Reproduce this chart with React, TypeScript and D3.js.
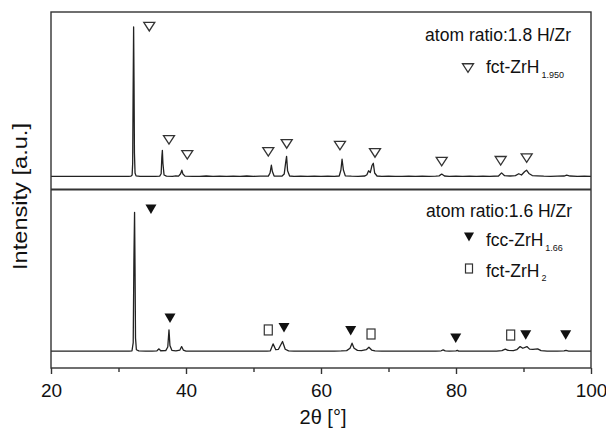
import React, { useRef, useEffect } from "react";
import * as d3 from "d3";

// XRD patterns: [2theta, intensity (a.u.)]
const topPattern: [number, number][] = [
  [20, 3], [22, 2], [24, 3], [26, 2], [28, 3], [30, 2], [31.5, 3], [31.85, 4], [32.02, 12], [32.1, 90],
  [32.16, 520], [32.24, 1000], [32.3, 640], [32.36, 160], [32.45, 25], [32.6, 6], [33.2, 3], [34.5, 2],
  [35.5, 3], [36.1, 4], [36.32, 20], [36.42, 130], [36.5, 176], [36.58, 90], [36.75, 12], [37.1, 4],
  [38, 3], [38.5, 6], [38.9, 4], [39.2, 20], [39.38, 44], [39.55, 18], [39.85, 4], [41, 2], [42, 3],
  [43, 5], [44, 3], [45, 4], [46, 2], [47, 4], [48, 3], [49, 5], [50, 3], [51, 4], [52.2, 4],
  [52.45, 25], [52.65, 77], [52.8, 35], [53.05, 5], [53.6, 4], [54.2, 4], [54.55, 18], [54.78, 100],
  [54.9, 136], [55.05, 40], [55.35, 5], [56, 3], [57, 4], [58, 3], [59, 4], [60, 3], [61, 4], [62, 3],
  [62.7, 5], [62.95, 45], [63.12, 117], [63.32, 45], [63.6, 6], [64.5, 4], [65.5, 3], [66.5, 5],
  [66.8, 14], [67.05, 40], [67.3, 28], [67.55, 75], [67.75, 90], [67.95, 25], [68.3, 5], [69, 3],
  [70, 4], [71, 2], [72, 3], [73, 4], [74, 3], [75, 4], [76, 3], [77, 4], [77.5, 6], [77.88, 18],
  [78.3, 5], [79, 3], [80, 4], [81, 3], [82, 4], [83, 3], [84, 4], [85, 3], [86.3, 5], [86.75, 26],
  [87.2, 7], [88, 5], [88.8, 8], [89.3, 20], [89.7, 12], [90.15, 33], [90.45, 44], [90.8, 22],
  [91.3, 8], [92, 6], [93, 4], [94, 3], [95, 4], [96, 5], [96.4, 11], [96.9, 5], [98, 3], [99, 4], [100, 3],
];

const bottomPattern: [number, number][] = [
  [20, 3], [22, 2], [24, 3], [26, 2], [28, 3], [30, 2], [31.6, 3], [32.0, 5], [32.18, 60], [32.28, 600],
  [32.38, 929], [32.45, 550], [32.52, 90], [32.65, 12], [33.0, 4], [34, 3], [35, 2], [35.7, 5],
  [36.0, 18], [36.25, 5], [37.0, 6], [37.3, 30], [37.48, 145], [37.62, 40], [37.9, 8], [38.5, 5],
  [39.1, 10], [39.35, 33], [39.6, 10], [40, 3], [41, 2], [42, 3], [43, 2], [44, 3], [45, 2], [46, 3],
  [47, 2], [48, 3], [49, 2], [50, 3], [51, 2], [52, 3], [52.5, 5], [52.9, 51], [53.3, 12], [53.7, 15],
  [54.3, 67], [54.7, 15], [55.2, 4], [56, 3], [57, 2], [58, 3], [59, 2], [60, 3], [61, 2], [62, 3],
  [63, 4], [63.8, 6], [64.3, 22], [64.6, 56], [64.9, 22], [65.4, 8], [66, 6], [66.7, 12], [67.1, 29],
  [67.5, 10], [68, 4], [69, 3], [70, 2], [71, 3], [72, 2], [73, 3], [74, 2], [75, 3], [76, 2], [77, 3],
  [77.8, 5], [78.1, 11], [78.4, 4], [79, 3], [80.0, 4], [80.2, 8], [80.4, 3], [81, 2], [82, 3], [83, 2],
  [84, 3], [85, 2], [86, 3], [86.8, 6], [87.3, 16], [87.7, 8], [88.5, 6], [89.0, 12], [89.5, 33],
  [89.9, 22], [90.5, 33], [90.9, 16], [91.4, 14], [92.1, 18], [92.6, 6], [93.5, 3], [95, 2], [96, 4],
  [96.3, 7], [96.7, 3], [98, 2], [100, 3],
];

// phase markers: [2theta, intensity at marker centre]
const topOpenTriangles: [number, number][] = [
  [34.56, 1002], [37.48, 246], [40.19, 146], [52.19, 166], [54.92, 219],
  [62.81, 208], [68.0, 159], [77.88, 101], [86.62, 107], [90.47, 125],
];
const bottomFilledTriangles: [number, number][] = [
  [34.81, 949], [37.63, 222], [54.52, 159], [64.4, 139], [79.96, 88], [90.33, 110], [96.25, 110],
];
const bottomSquares: [number, number][] = [
  [52.19, 144], [67.41, 117], [88.1, 110],
];

const majorTicks = [20, 40, 60, 80, 100];
const minorTicks = [30, 50, 70, 90];

const topLegendTitle = "atom ratio:1.8 H/Zr";
const bottomLegendTitle = "atom ratio:1.6 H/Zr";

function XrdChart() {
  const svgRef = useRef<SVGSVGElement>(null);
  const width = 606;
  const height = 432;
  const left = 51, right = 591, top = 12, mid = 189.5, bottom = 368;
  const font = "'Liberation Sans', Arial, sans-serif";
  const ink = "#222";

  useEffect(() => {
    const svg = d3.select(svgRef.current);
    svg.selectAll("*").remove();

    svg.append("rect").attr("width", width).attr("height", height).attr("fill", "#fff");

    const x = d3.scaleLinear([20, 100], [left, right]);
    const yTop = d3.scaleLinear([-85, 1100], [mid, top]);
    const yBot = d3.scaleLinear([-110, 1075], [bottom, mid + 1]);

    const lineTop = d3.line<[number, number]>().x(d => x(d[0])).y(d => yTop(d[1]));
    const lineBot = d3.line<[number, number]>().x(d => x(d[0])).y(d => yBot(d[1]));

    svg.append("path").attr("d", lineTop(topPattern)).attr("fill", "none")
      .attr("stroke", ink).attr("stroke-width", 1.3).attr("stroke-linejoin", "round");
    svg.append("path").attr("d", lineBot(bottomPattern)).attr("fill", "none")
      .attr("stroke", ink).attr("stroke-width", 1.3).attr("stroke-linejoin", "round");

    // frame and divider
    svg.append("rect").attr("x", left).attr("y", top).attr("width", right - left)
      .attr("height", bottom - top).attr("fill", "none").attr("stroke", "#333").attr("stroke-width", 1.4);
    svg.append("line").attr("x1", left).attr("x2", right).attr("y1", mid).attr("y2", mid)
      .attr("stroke", "#333").attr("stroke-width", 2);

    // axes
    const gx = svg.append("g").attr("transform", `translate(0,${bottom})`)
      .call(d3.axisBottom(x).tickValues(majorTicks).tickSize(6).tickPadding(9.5).tickFormat(d3.format("d")));
    gx.select(".domain").remove();
    gx.selectAll("line").attr("stroke", "#333").attr("stroke-width", 1.4);
    gx.selectAll("text").attr("font-size", 19).attr("font-family", font).attr("fill", "#111");

    const gm = svg.append("g").attr("transform", `translate(0,${bottom})`)
      .call(d3.axisBottom(x).tickValues(minorTicks).tickSize(4).tickFormat(() => ""));
    gm.select(".domain").remove();
    gm.selectAll("line").attr("stroke", "#333").attr("stroke-width", 1.4);

    // markers
    const tri = (w: number, h: number) => `M${-w / 2},${-h / 2}L${w / 2},${-h / 2}L0,${h / 2}Z`;

    svg.append("g").selectAll("path").data(topOpenTriangles).join("path")
      .attr("d", tri(11, 8.5))
      .attr("transform", d => `translate(${x(d[0])},${yTop(d[1])})`)
      .attr("fill", "#fff").attr("stroke", "#333").attr("stroke-width", 1.3);

    svg.append("g").selectAll("path").data(bottomFilledTriangles).join("path")
      .attr("d", tri(11, 9.5))
      .attr("transform", d => `translate(${x(d[0])},${yBot(d[1])})`)
      .attr("fill", "#111");

    svg.append("g").selectAll("rect").data(bottomSquares).join("rect")
      .attr("x", d => x(d[0]) - 4).attr("y", d => yBot(d[1]) - 5)
      .attr("width", 8).attr("height", 10)
      .attr("fill", "#fff").attr("stroke", "#333").attr("stroke-width", 1.2);

    // legends
    const txt = (tx: number, ty: number, s: string, size: number, anchor = "start") =>
      svg.append("text").attr("x", tx).attr("y", ty).attr("font-size", size)
        .attr("font-family", font).attr("fill", "#111").attr("text-anchor", anchor).text(s);

    // label with a subscript placed right after the main text
    const subLabel = (tx: number, ty: number, main: string, sub: string) => {
      const t = txt(tx, ty, main, 17.5);
      const w = (t.node() as SVGTextElement).getComputedTextLength();
      txt(tx + w + 2, ty + 4.5, sub, 9);
    };

    txt(571, 40.5, topLegendTitle, 17.5, "end");
    svg.append("path").attr("d", tri(11, 8.5)).attr("transform", "translate(468,68)")
      .attr("fill", "#fff").attr("stroke", "#333").attr("stroke-width", 1.3);
    subLabel(486, 73, "fct-ZrH", "1.950");

    txt(572, 216.5, bottomLegendTitle, 17.5, "end");
    svg.append("path").attr("d", tri(10, 9)).attr("transform", "translate(469,237)").attr("fill", "#111");
    subLabel(486, 246, "fcc-ZrH", "1.66");
    svg.append("rect").attr("x", 465.5).attr("y", 264).attr("width", 7).attr("height", 9)
      .attr("fill", "#fff").attr("stroke", "#333").attr("stroke-width", 1.2);
    subLabel(486, 276.5, "fct-ZrH", "2");

    // axis titles
    svg.append("text").attr("transform", "translate(27,196.5) rotate(-90)")
      .attr("text-anchor", "middle").attr("font-size", 21).attr("font-family", font)
      .attr("fill", "#111").attr("textLength", 147).attr("lengthAdjust", "spacingAndGlyphs")
      .text("Intensity [a.u.]");
    svg.append("text").attr("x", (left + right) / 2 + 2).attr("y", 424)
      .attr("text-anchor", "middle").attr("font-size", 20).attr("font-family", font)
      .attr("fill", "#111").text("2θ [°]");
  }, []);

  return (
    <svg ref={svgRef} width={width} height={height}
      style={{ position: "absolute", left: 0, top: 0, display: "block" }} />
  );
}

export default function App() {
  return <XrdChart />;
}
